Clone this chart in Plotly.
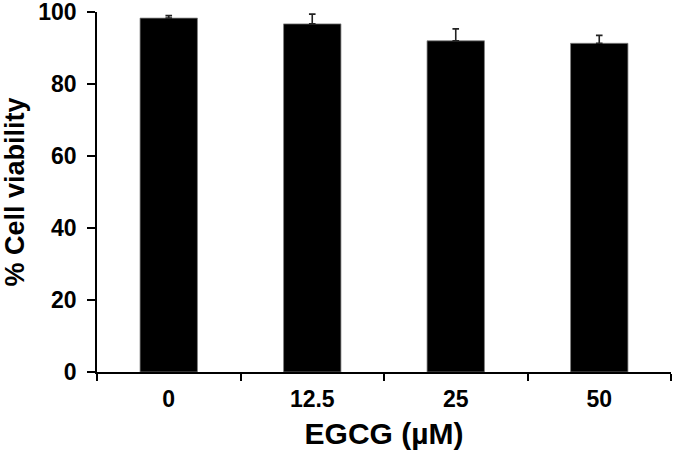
"""
Cell viability after EGCG treatment: bar chart with error bars.
"""

import plotly.graph_objects as go

# data
doses = ['0', '12.5', '25', '50']
viability = [98.3, 96.7, 92.0, 91.3]
viability_err = [0.7, 2.7, 3.3, 2.2]
y_ticks = [0, 20, 40, 60, 80, 100]

FONT = "Liberation Sans, Arial, sans-serif"

fig = go.Figure()

fig.add_trace(go.Bar(
    x=doses,
    y=viability,
    width=0.4,
    marker=dict(color='black', line=dict(color='#808080', width=0.8)),
    error_y=dict(
        type='data',
        array=viability_err,
        symmetric=False,
        arrayminus=[0] * len(viability_err),
        color='#222222',
        thickness=1.6,
        width=3.3,
    ),
))

fig.update_layout(
    width=675,
    height=457,
    margin=dict(l=97, r=4, t=12, b=85),
    plot_bgcolor='white',
    paper_bgcolor='white',
    showlegend=False,
    font=dict(family=FONT, color='black'),
)

fig.update_xaxes(
    type='category',
    range=[-0.5, 3.5],
    automargin=False,
    tickson='boundaries',
    ticks='outside',
    ticklen=7,
    tickwidth=1.6,
    tickcolor='black',
    showline=True,
    linecolor='black',
    linewidth=1.6,
    showgrid=False,
    tickfont=dict(size=23, weight='bold', family=FONT),
    ticklabelstandoff=6,
    title=dict(text='EGCG (µM)', font=dict(size=30, weight='bold', family=FONT),
               standoff=12),
)

fig.update_yaxes(
    range=[0, 100],
    automargin=False,
    tickvals=y_ticks,
    ticks='outside',
    ticklen=8,
    tickwidth=1.6,
    tickcolor='black',
    showline=True,
    linecolor='black',
    linewidth=1.6,
    showgrid=False,
    zeroline=False,
    tickfont=dict(size=23, weight='bold', family=FONT),
    ticklabelstandoff=6,
    ticklabeloverflow='allow',
    title=dict(text='% Cell viability', font=dict(size=27, weight='bold', family=FONT),
               standoff=22),
)

# drop the default 8px body margin so the figure sits at the page corner
fig.write_html(
    "out.html",
    config={'displayModeBar': False},
    post_script="document.body.style.margin='0';",
)
